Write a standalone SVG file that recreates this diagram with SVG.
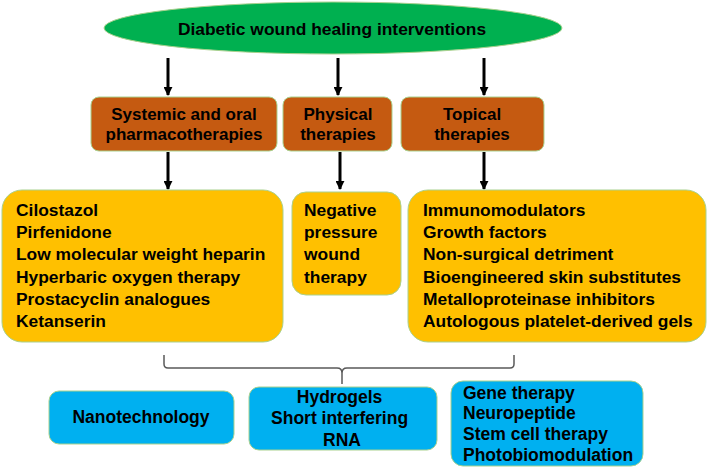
<svg xmlns="http://www.w3.org/2000/svg" width="709" height="467" viewBox="0 0 709 467">
<defs>
<style>
.t{font-family:"Liberation Sans",Arial,sans-serif;font-weight:bold;fill:#000;}
.c{text-anchor:middle;}
.or{fill:#C55A11;stroke:#A9D18E;stroke-width:1;}
.ye{fill:#FFC000;stroke:#A9D18E;stroke-width:1;}
.bl{fill:#00B0F0;stroke:#A9D18E;stroke-width:1;}
.ar{stroke:#000;stroke-width:3;fill:none;marker-end:url(#ah);}
</style>
<marker id="ah" viewBox="0 0 10 10" refX="9" refY="5" markerWidth="3" markerHeight="3" orient="auto" markerUnits="strokeWidth">
<path d="M0,0 L10,5 L0,10 z" fill="#000"/>
</marker>
</defs>
<rect width="709" height="467" fill="#fff"/>

<g id="root">
<ellipse cx="333" cy="28" rx="229" ry="26" fill="#00B050" stroke="#A9D18E" stroke-width="1"/>
<text class="t c" x="332" y="35" font-size="17.4">Diabetic wound healing interventions</text>
</g>

<g id="connectors">
<line class="ar" x1="168" y1="58" x2="168" y2="95"/>
<line class="ar" x1="338" y1="58" x2="338" y2="95"/>
<line class="ar" x1="484" y1="58" x2="484" y2="95"/>
<line class="ar" x1="168" y1="152" x2="168" y2="189"/>
<line class="ar" x1="340" y1="152" x2="340" y2="189"/>
<line class="ar" x1="484" y1="152" x2="484" y2="189"/>
<path d="M164,355 V364 Q164,368 168,368 H337 Q342,368 342,373 V384 M342,373 Q342,368 347,368 H510 Q514,368 514,364 V355" fill="none" stroke="#595959" stroke-width="1.5"/>
</g>

<g id="systemic">
<rect class="or" x="91" y="97" width="186" height="54" rx="8"/>
<text class="t c" x="184" y="120" font-size="17">Systemic and oral</text>
<text class="t c" x="184" y="140" font-size="17">pharmacotherapies</text>
</g>
<g id="physical">
<rect class="or" x="283" y="97" width="109" height="54" rx="8"/>
<text class="t c" x="338" y="120" font-size="17">Physical</text>
<text class="t c" x="338" y="140" font-size="17">therapies</text>
</g>
<g id="topical">
<rect class="or" x="401" y="97" width="143" height="54" rx="8"/>
<text class="t c" x="472" y="120" font-size="17">Topical</text>
<text class="t c" x="472" y="140" font-size="17">therapies</text>
</g>

<g id="systemic-list">
<rect class="ye" x="2" y="190" width="281" height="152" rx="20"/>
<text class="t" font-size="17.4">
<tspan x="16" y="216">Cilostazol</tspan>
<tspan x="16" y="238">Pirfenidone</tspan>
<tspan x="16" y="260">Low molecular weight heparin</tspan>
<tspan x="16" y="283">Hyperbaric oxygen therapy</tspan>
<tspan x="16" y="305">Prostacyclin analogues</tspan>
<tspan x="16" y="327">Ketanserin</tspan>
</text>
</g>
<g id="physical-list">
<rect class="ye" x="292" y="192" width="109" height="103" rx="14"/>
<text class="t" font-size="17.4">
<tspan x="304" y="216">Negative</tspan>
<tspan x="304" y="238">pressure</tspan>
<tspan x="304" y="260">wound</tspan>
<tspan x="304" y="283">therapy</tspan>
</text>
</g>
<g id="topical-list">
<rect class="ye" x="408" y="190" width="298" height="152" rx="20"/>
<text class="t" font-size="17.4">
<tspan x="423" y="216">Immunomodulators</tspan>
<tspan x="423" y="238">Growth factors</tspan>
<tspan x="423" y="260">Non-surgical detriment</tspan>
<tspan x="423" y="283">Bioengineered skin substitutes</tspan>
<tspan x="423" y="305">Metalloproteinase inhibitors</tspan>
<tspan x="423" y="327">Autologous platelet-derived gels</tspan>
</text>
</g>

<g id="nanotechnology">
<rect class="bl" x="49" y="391" width="185" height="53" rx="10"/>
<text class="t c" x="141" y="423" font-size="17.5">Nanotechnology</text>
</g>
<g id="hydrogels">
<rect class="bl" x="249" y="387" width="188" height="63" rx="10"/>
<text class="t c" font-size="17.5">
<tspan x="342" y="403">Hydrogels</tspan>
<tspan x="342" y="424">Short interfering</tspan>
<tspan x="342" y="446">RNA</tspan>
</text>
</g>
<g id="gene">
<rect class="bl" x="451" y="381" width="192" height="85" rx="12"/>
<text class="t" font-size="17.5">
<tspan x="463" y="399">Gene therapy</tspan>
<tspan x="463" y="419">Neuropeptide</tspan>
<tspan x="463" y="440">Stem cell therapy</tspan>
<tspan x="463" y="461">Photobiomodulation</tspan>
</text>
</g>
</svg>
